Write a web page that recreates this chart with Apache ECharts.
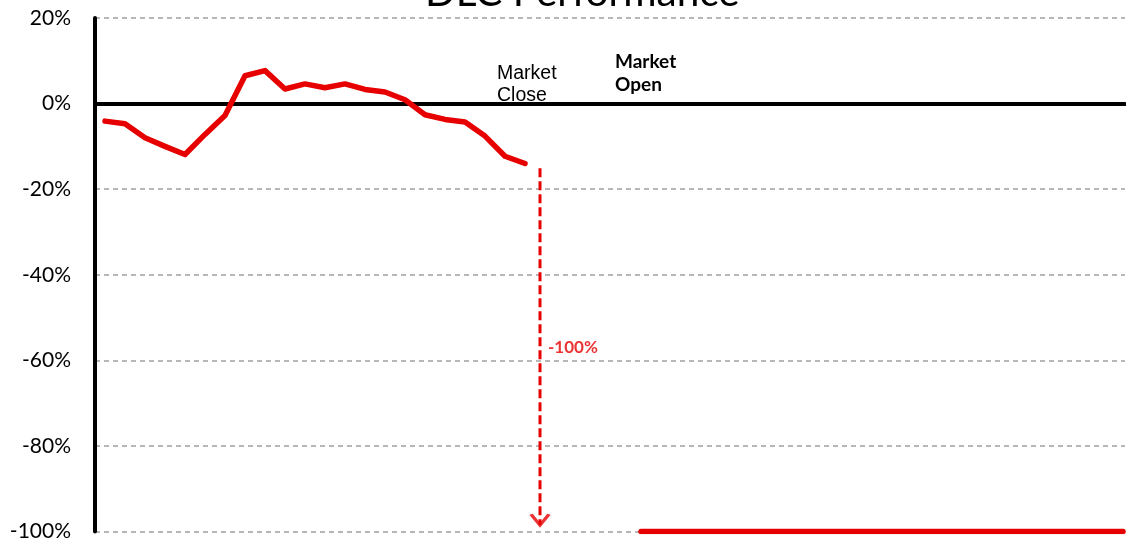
<!DOCTYPE html>
<html>
<head>
<meta charset="utf-8">
<script src="https://cdn.jsdelivr.net/npm/echarts@6/dist/echarts.min.js"></script>
<style>
html,body{margin:0;padding:0;background:#fff;}
#chart{width:1126px;height:542px;}
</style>
</head>
<body>
<div id="chart"></div>
<script>
// ---- data ----
const perfX = [0,1,2,3,4,5,6,7,8,9,10,11,12,13,14,15,16,17,18,19,20,21];
const perfY = [-4.1,-4.7,-8.0,-10.0,-11.9,-7.2,-2.8,6.5,7.7,3.4,4.6,3.7,4.6,3.3,2.7,0.9,-2.6,-3.7,-4.3,-7.6,-12.3,-14.0];
const arrowX = [21.75,21.75,21.75];
const arrowY = [-15.1,-57,-98.4];
const arrowLabel = '-100%';
const openX = [26.8,50.9];
const openY = [-100,-100];
const yTicks = [-100,-80,-60,-40,-20,0,20];
const titleText = 'DLC Performance';
const closeText = 'Market\nClose';
const openText = 'Market\nOpen';

const chart = echarts.init(document.getElementById('chart'));
const RED = '#e60000';
chart.setOption({
  animation:false,
  backgroundColor:'#fff',
  title:{
    text:titleText, left:420, top:-33,
    textStyle:{fontFamily:'Lato', fontSize:40.5, fontWeight:'normal', color:'#000'}
  },
  grid:{left:95, right:1, top:18, bottom:5, containLabel:false},
  xAxis:{
    type:'value', min:-0.5, max:51,
    axisLine:{onZero:true, lineStyle:{color:'#000', width:4}},
    axisTick:{show:false}, axisLabel:{show:false}, splitLine:{show:false}
  },
  yAxis:{
    type:'value', min:yTicks[0], max:yTicks[yTicks.length-1], interval:20,
    axisLine:{show:true, onZero:false, lineStyle:{color:'#000', width:4}},
    axisTick:{show:false},
    axisLabel:{formatter:'{value}%', fontFamily:'Lato', fontSize:21, color:'#000', margin:24},
    splitLine:{show:true, lineStyle:{color:'#a0a0a0', width:1.5, type:[5,4]}}
  },
  graphic:[
    {type:'text', left:497, top:63, style:{text:closeText, font:'19.5px "Liberation Sans"', fill:'#000', lineHeight:22}},
    {type:'text', left:615, top:50, style:{text:openText, font:'bold 19px Lato', fill:'#000', lineHeight:23, align:'center'}}
  ],
  series:[
    {type:'line', data:perfX.map((x,i)=>[x,perfY[i]]), symbol:'none',
      lineStyle:{color:RED, width:5.5, join:'round', cap:'round'}, z:5},
    {type:'line', data:arrowX.map((x,i)=>[x,arrowY[i]]), symbol:'none',
      lineStyle:{color:RED, width:3, type:[9,4]}, z:4,
      emphasis:{disabled:true}},
    {type:'scatter', data:[[arrowX[1],arrowY[1]]], symbolSize:0,
      label:{show:true, formatter:arrowLabel, position:'right', distance:8,
        fontFamily:'Lato', fontWeight:'bold', fontSize:17, color:RED}, z:6},
    {type:'scatter', data:[[arrowX[2],arrowY[2]]], symbol:'path://M0,0 L10,10 L20,0',
      symbolSize:[18,11], symbolOffset:[0,-5],
      itemStyle:{color:'transparent', borderColor:RED, borderWidth:3}, z:6},
    {type:'line', data:openX.map((x,i)=>[x,openY[i]]), symbol:'none',
      lineStyle:{color:RED, width:5.5, cap:'round'}, z:5}
  ]
});
</script>
</body>
</html>
